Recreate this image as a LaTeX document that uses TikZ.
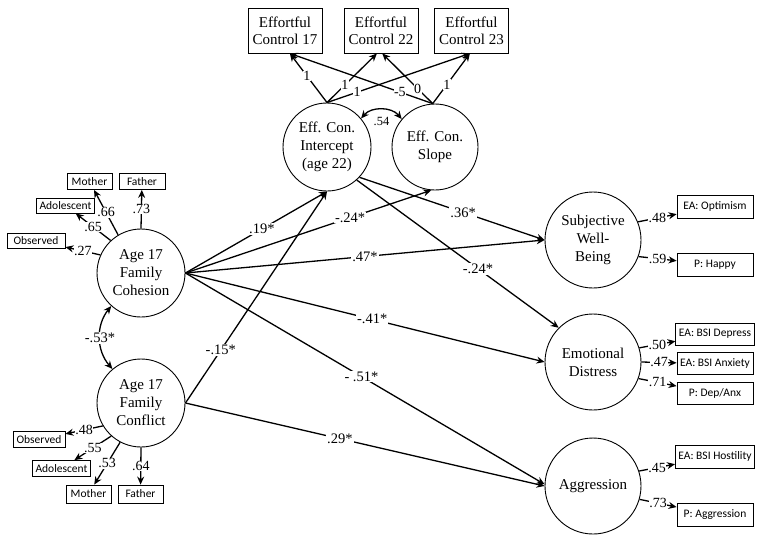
\documentclass[tikz,border=0pt]{standalone}
\usepackage{fontspec}
\setmainfont{Liberation Serif}
\newfontfamily\indfont{Carlito}
\usetikzlibrary{arrows.meta, positioning, calc}

\begin{document}
\begin{tikzpicture}[
    > = {Stealth[length=8pt,width=7pt]}, % arrow head style
    x = 1pt, y = 1pt,
    line width = 1.3pt % path style
    ]

    \tikzset{latent/.style = {circle, draw, line width=0.9pt, align=center, inner sep=1pt, font=\fontsize{15}{18}\selectfont}}
    \tikzset{measure/.style = {rectangle, draw, line width=0.9pt, align=center, font=\fontsize{15}{17}\selectfont, minimum width=74pt, minimum height=45pt, inner sep=1pt}}
    \tikzset{indic/.style = {rectangle, draw, line width=0.8pt, font=\indfont\fontsize{11.5}{12}\selectfont, inner xsep=3pt, inner ysep=0pt, minimum height=16pt}}
    \tikzset{indicr/.style = {indic, minimum width=76pt, minimum height=23pt}}
    \tikzset{coef/.style = {fill=white, inner sep=1pt, font=\fontsize{14.5}{14}\selectfont}}
    \tikzset{load/.style = {fill=white, inner sep=0.5pt, font=\fontsize{14}{13}\selectfont}}

    \useasboundingbox (0,0) rectangle (762,-542);

    % latent variables
    \node[latent, minimum size=88pt] (cohes) at (141,-273) {Age 17\\Family\\Cohesion};
    \node[latent, minimum size=88pt] (confl) at (141,-403) {Age 17\\Family\\Conflict};
    \node[latent, minimum size=88pt] (icpt) at (327,-147) {Eff. Con.\\Intercept\\(age 22)};
    \node[latent, minimum size=86pt] (slope) at (435,-147) {Eff. Con.\\Slope};
    \node[latent, minimum size=96pt] (swb) at (593,-240) {Subjective\\Well-\\Being};
    \node[latent, minimum size=96pt] (dist) at (593,-362) {Emotional\\Distress};
    \node[latent, minimum size=96pt] (aggr) at (593,-486) {Aggression};

    % effortful control waves
    \node[measure] (ec17) at (285,-30.5) {Effortful\\Control 17};
    \node[measure] (ec22) at (381,-30.5) {Effortful\\Control 22};
    \node[measure] (ec23) at (471.5,-30.5) {Effortful\\Control 23};

    % cohesion indicators
    \node[indic, minimum width=45pt] (mothc) at (89.5,-181.5) {Mother};
    \node[indic, minimum width=46pt] (fathc) at (142,-181.5) {Father};
    \node[indic, minimum height=15pt] (adolc) at (65.5,-205.5) {Adolescent};
    \node[indic, minimum height=15pt, minimum width=58pt] (obsc) at (36,-240.5) {Observed};

    % conflict indicators
    \node[indic, minimum width=52pt] (obsf) at (39,-439.5) {Observed};
    \node[indic, minimum width=55pt] (adolf) at (61.5,-468.5) {Adolescent};
    \node[indic, minimum height=18pt, minimum width=45pt] (mothf) at (88.5,-494) {Mother};
    \node[indic, minimum height=18pt, minimum width=45pt] (fathf) at (140.5,-494) {Father};

    % outcome indicators
    \node[indicr] (optim) at (715,-206.5) {EA: Optimism};
    \node[indicr] (happy) at (715,-265) {P: Happy};
    \node[indicr, minimum height=22pt] (depr) at (715,-334) {EA: BSI Depress};
    \node[indicr, minimum height=22pt] (anxi) [below=7pt of depr] {EA: BSI Anxiety};
    \node[indicr, minimum height=22pt] (depanx) [below=7pt of anxi] {P: Dep/Anx};
    \node[indicr] (host) at (715,-456.5) {EA: BSI Hostility};
    \node[indicr] (paggr) at (715,-515) {P: Aggression};

    % growth loadings
    \path[->] (icpt.north) edge node[load, pos=0.54] {1} (ec17.282);
    \path[->] (icpt.north) edge node[load, pos=0.36] {1} (ec22.260);
    \path[->] (icpt.north) edge node[load, pos=0.21] {1} (ec23.266);
    \path[->] (slope.93) edge node[load, pos=0.23] {-5} (ec17.282);
    \path[->] (slope.93) edge node[load, pos=0.3] {0} (ec22.273);
    \path[->] (slope.93) edge node[load, pos=0.38] {1} (ec23.266);
    \path[<->] (icpt.40) edge[bend left=50] node[below=4pt, font=\fontsize{12.5}{12}\selectfont] {.54} (slope.140);

    % measurement paths
    \path[->] (cohes.121) edge node[load] {.66} (mothc);
    \path[->] (cohes.north) edge node[load] {.73} (fathc);
    \path[->] (cohes.133) edge node[load] {.65} (adolc);
    \path[->] (cohes.156) edge node[load] {.27} (obsc);
    \path[->] (confl.211) edge node[load] {.48} (obsf);
    \path[->] (confl.228) edge node[load] {.55} (adolf);
    \path[->] (confl.242) edge node[load] {.53} (mothf);
    \path[->] (confl.270) edge node[load] {.64} (fathf);
    \path[<->] (cohes.228) edge[bend right=40] node[coef] {-.53*} (confl.130);

    \path[->] (swb.22) edge node[load] {.48} (optim);
    \path[->] (swb.-20) edge node[load] {.59} (happy);
    \path[->] (dist.17) edge node[load] {.50} (depr);
    \path[->] (dist.0) edge node[load] {.47} (anxi);
    \path[->] (dist.-20) edge node[load] {.71} (depanx);
    \path[->] (aggr.18) edge node[load] {.45} (host);
    \path[->] (aggr.-16) edge node[load] {.73} (paggr);

    % structural paths
    \path[->] (cohes.east) edge node[coef, pos=0.54] {.19*} (icpt.south);
    \path[->] (cohes.east) edge node[coef, pos=0.67] {-.24*} (slope.265);
    \path[->] (cohes.east) edge node[coef, pos=0.5] {.47*} (swb.west);
    \path[->] (cohes.east) edge node[coef, pos=0.52] {-.41*} (dist.west);
    \path[->] (cohes.east) edge node[coef, pos=0.49] {- .51*} (aggr.178);
    \path[->] (confl.east) edge node[coef, pos=0.25] {-.15*} (icpt.south);
    \path[->] (confl.east) edge node[coef, pos=0.43] {.29*} (aggr.west);
    \path[->] (icpt.-43) edge node[coef, pos=0.56] {.36*} (swb.west);
    \path[->] (icpt.-48) edge node[coef, pos=0.6] {-.24*} (dist.135);

\end{tikzpicture}
\end{document}
